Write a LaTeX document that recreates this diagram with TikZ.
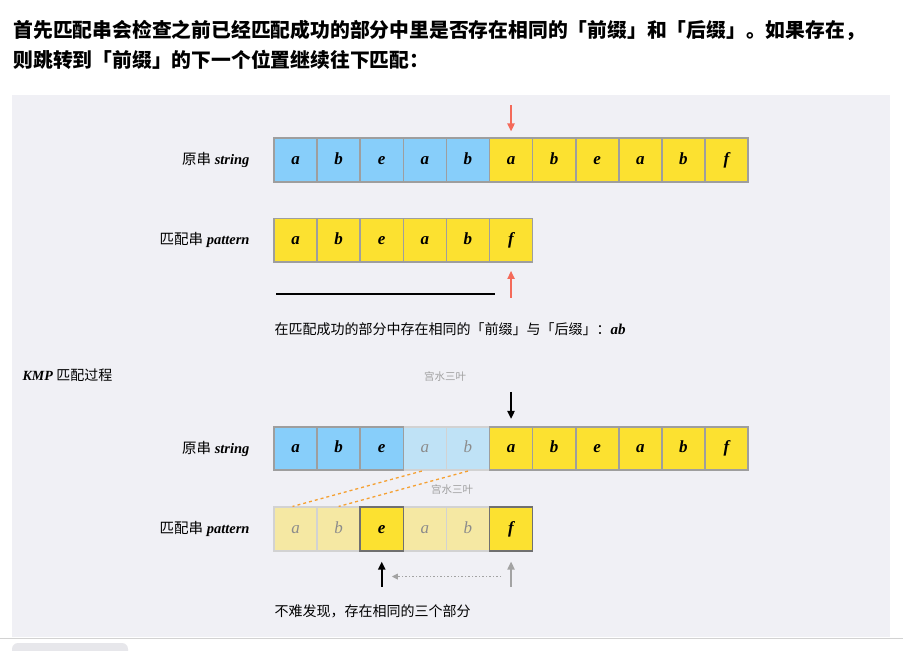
\documentclass[tikz,border=0pt]{standalone}
\usepackage{fontspec}
\setmainfont{Liberation Serif}
\newfontfamily\cjk{Noto Sans CJK SC}
\usetikzlibrary{arrows.meta,positioning,calc}

\definecolor{panelbg}{HTML}{F0F0F5}
\definecolor{cellblue}{HTML}{87CEFA}
\definecolor{fadeblue}{HTML}{BFE2F6}
\definecolor{cellyellow}{HTML}{FCE130}
\definecolor{paleyellow}{HTML}{F5E8A3}
\definecolor{cellgray}{HTML}{9E9E9E}
\definecolor{lightedge}{HTML}{D2D2D2}
\definecolor{darkedge}{HTML}{707070}
\definecolor{fadetext}{HTML}{8C8C8C}
\definecolor{pointred}{HTML}{F46A5A}
\definecolor{dashorange}{HTML}{F5A031}
\definecolor{marktext}{HTML}{A0A0A0}

\begin{document}
\begin{tikzpicture}[x=1pt,y=-1pt,>=Stealth,
  cell/.style={draw=cellgray,line width=1.6pt,minimum width=43.1pt,minimum height=43.5pt,
    inner sep=0pt,text height=11.5pt,text depth=3pt,
    font=\fontsize{17}{17}\selectfont\bfseries\itshape},
  faded/.style={draw=lightedge,text=fadetext,font=\fontsize{17}{17}\selectfont\itshape},
  rowlabel/.style={anchor=east,font=\fontsize{14.5}{14.5}\selectfont},
  note/.style={anchor=west,font=\cjk\fontsize{14}{14}\selectfont},
  watermark/.style={font=\cjk\fontsize{10.5}{10.5}\selectfont,text=marktext},
  pointer/.style={->,line width=2pt,>={Triangle[length=8pt,width=7pt]}}]
\useasboundingbox (0,0) rectangle (903,651);
\fill[white] (0,0) rectangle (903,651);
\fill[panelbg] (12,95) rectangle (890,637);
\draw[lightedge,line width=0.6pt] (0,638.5) -- (903,638.5);
\fill[panelbg!70!lightedge,rounded corners=6pt] (12,643) rectangle (128,660);

% title
\node[anchor=west,font=\cjk\bfseries\fontsize{19.8}{19.8}\selectfont] (title1) at (10,30)
  {首先匹配串会检查之前已经匹配成功的部分中里是否存在相同的「前缀」和「后缀」。如果存在，};
\node[anchor=west,font=\cjk\bfseries\fontsize{19.8}{19.8}\selectfont] (title2) at (10,60)
  {则跳转到「前缀」的下一个位置继续往下匹配：};

% upper part
\foreach \c [count=\i] in {a,b,e,a,b,a,b,e,a,b,f} {
  \ifnum\i<6 \def\cellfill{cellblue}\else\def\cellfill{cellyellow}\fi
  \node[cell,fill=\cellfill] (s\i) at ({274+43.1*(\i-0.5)},160) {\c};
}
\foreach \c [count=\i] in {a,b,e,a,b,f}
  \node[cell,fill=cellyellow] (p\i) at ({274+43.1*(\i-0.5)},240.3) {\c};

\node[rowlabel] (slabel) at (253,160) {{\cjk 原串} \textbf{\textit{string}}};
\node[rowlabel] (plabel) at (253,240.3) {{\cjk 匹配串} \textbf{\textit{pattern}}};

\coordinate (redtop) at ($(s6.north)+(0,-32)$);
\coordinate (redbot) at ($(p6.south)+(0,35)$);
\draw[pointer,pointred] (redtop) -- (s6.north) [shorten >=6pt];
\draw[pointer,pointred] (redbot) -- (p6.south) [shorten >=8pt];
\draw[line width=2.2pt] ($(p1.south west)+(3,31)$) -- ($(p5.south east)+(4.5,31)$);

\node[note] (found) at (271,329)
  {在匹配成功的部分中存在相同的「前缀」与「后缀」：{\rmfamily\bfseries\itshape\fontsize{15}{15}\selectfont ab}};

\node[anchor=west,font=\fontsize{14}{14}\selectfont] (kmp) at (19,375)
  {\textbf{\textit{KMP}} {\cjk 匹配过程}};
\node[watermark] (mark1) at (445,376) {宫水三叶};

% lower part: faded cells first, so the bright borders stay on top
\foreach \c [count=\i] in {a,b,e,a,b,a,b,e,a,b,f} {
  \ifnum\i>3 \ifnum\i<6
    \node[cell,faded,fill=fadeblue] (t\i) at ({274+43.1*(\i-0.5)},448.5) {\c};
  \fi\fi
}
\foreach \c [count=\i] in {a,b,e,a,b,a,b,e,a,b,f} {
  \ifnum\i<4
    \node[cell,fill=cellblue] (t\i) at ({274+43.1*(\i-0.5)},448.5) {\c};
  \else\ifnum\i>5
    \node[cell,fill=cellyellow] (t\i) at ({274+43.1*(\i-0.5)},448.5) {\c};
  \fi\fi
}
\foreach \c [count=\i] in {a,b,e,a,b,f} {
  \ifnum\i=3 \else\ifnum\i=6 \else
    \node[cell,faded,fill=paleyellow] (q\i) at ({274+43.1*(\i-0.5)},529) {\c};
  \fi\fi
}
\foreach \i/\c in {3/e,6/f}
  \node[cell,draw=darkedge,fill=cellyellow] (q\i) at ({274+43.1*(\i-0.5)},529) {\c};

\node[rowlabel] (tlabel) at (253,448.5) {{\cjk 原串} \textbf{\textit{string}}};
\node[rowlabel] (qlabel) at (253,529) {{\cjk 匹配串} \textbf{\textit{pattern}}};

\coordinate (blacktop) at ($(t6.north)+(0,-34)$);
\draw[pointer] (blacktop) -- (t6.north) [shorten >=7pt];

\draw[dashorange,dashed,line width=1.3pt] ($(t4.south)+(-3,0)$) -- ($(q1.north)+(-3,0)$);
\draw[dashorange,dashed,line width=1.3pt] (t5.south) -- (q2.north);
\node[watermark] (mark2) at (452,489) {宫水三叶};

\coordinate (newpos) at ($(q3.south)+(0,35)$);
\coordinate (oldpos) at ($(q6.south)+(0,35)$);
\draw[pointer] (newpos) -- (q3.south) [shorten >=10pt];
\draw[pointer,fadetext!80!white] (oldpos) -- (q6.south) [shorten >=10pt];
\draw[->,fadetext!80!white,line width=1.5pt,dotted,>={Triangle[length=6pt,width=5.5pt]}]
  ($(oldpos)+(-10,-10)$) -- ($(newpos)+(10,-10)$);

\node[note] (same) at (271,611.5) {不难发现，存在相同的三个部分};
\end{tikzpicture}
\end{document}
